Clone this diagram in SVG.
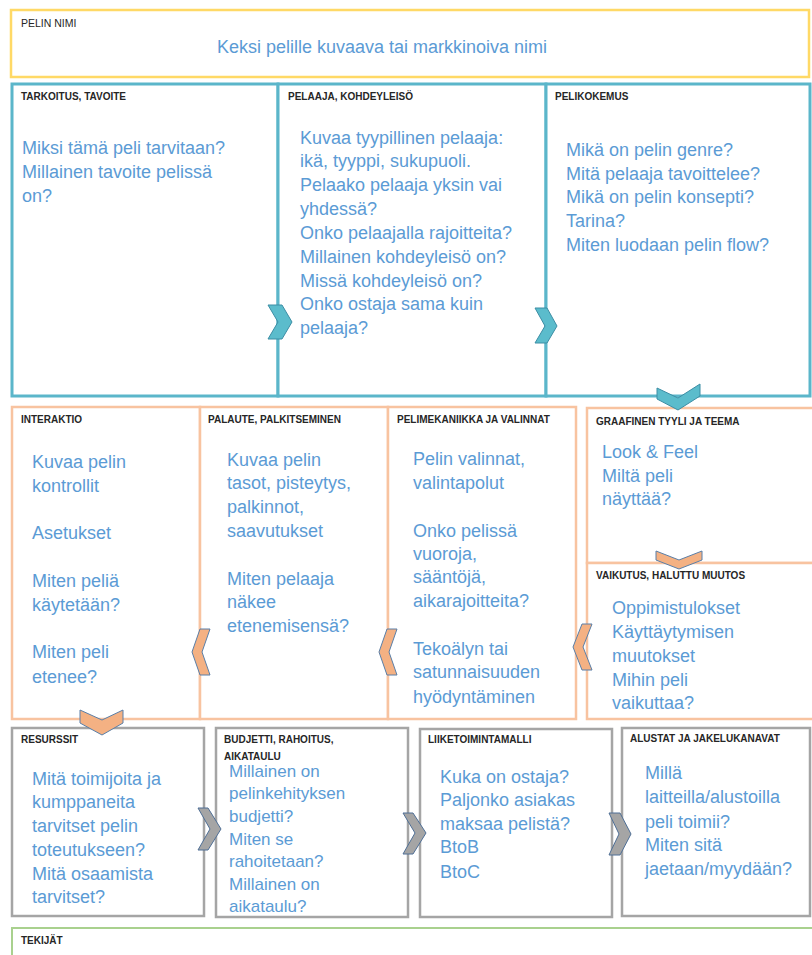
<svg xmlns="http://www.w3.org/2000/svg" width="812" height="955" viewBox="0 0 812 955">
<style>
  .lbl { font-family: "Liberation Sans", Arial, sans-serif; font-size: 10px; font-weight: bold; fill: #262626; }
  .lbln { font-family: "Liberation Sans", Arial, sans-serif; font-size: 10.5px; fill: #262626; }
  .body { font-family: "Liberation Sans", Arial, sans-serif; font-size: 18px; fill: #5b9bd5; }
  .body17 { font-family: "Liberation Sans", Arial, sans-serif; font-size: 17px; fill: #5b9bd5; }
  .yel { fill: #ffffff; stroke: #ffd966; stroke-width: 2.5; }
  .teal { fill: #ffffff; stroke: #5bb6ca; stroke-width: 3; }
  .org { fill: #ffffff; stroke: #f8c3a0; stroke-width: 2.5; }
  .gry { fill: #ffffff; stroke: #a5a5a5; stroke-width: 2.5; }
  .grn { fill: #ffffff; stroke: #a9d18e; stroke-width: 2; }
  .chT { fill: #5bbccc; stroke: #3d8ea5; stroke-width: 1; }
  .chO { fill: #f4b183; stroke: #5a7fa8; stroke-width: 1; }
  .chG { fill: #a5a5a5; stroke: #4f6f96; stroke-width: 1; }
</style>
<rect width="812" height="955" fill="#ffffff"/>

<g id="pelin-nimi">
  <rect class="yel" x="11" y="10" width="798" height="67"/>
  <text class="lbln" x="21" y="27">PELIN NIMI</text>
  <text class="body" x="382" y="53" text-anchor="middle">Keksi pelille kuvaava tai markkinoiva nimi</text>
</g>

<g id="tarkoitus">
  <rect class="teal" x="12" y="84" width="266" height="312"/>
  <text class="lbl" x="21" y="100">TARKOITUS, TAVOITE</text>
  <text class="body" x="22" y="154">Miksi tämä peli tarvitaan?</text>
  <text class="body" x="22" y="178">Millainen tavoite pelissä</text>
  <text class="body" x="22" y="202">on?</text>
</g>

<g id="pelaaja">
  <rect class="teal" x="278" y="84" width="268" height="312"/>
  <text class="lbl" x="288" y="100">PELAAJA, KOHDEYLEISÖ</text>
  <text class="body" x="300" y="144">Kuvaa tyypillinen pelaaja:</text>
  <text class="body" x="300" y="167">ikä, tyyppi, sukupuoli.</text>
  <text class="body" x="300" y="191">Pelaako pelaaja yksin vai</text>
  <text class="body" x="300" y="215">yhdessä?</text>
  <text class="body" x="300" y="239">Onko pelaajalla rajoitteita?</text>
  <text class="body" x="300" y="263">Millainen kohdeyleisö on?</text>
  <text class="body" x="300" y="287">Missä kohdeyleisö on?</text>
  <text class="body" x="300" y="310">Onko ostaja sama kuin</text>
  <text class="body" x="300" y="334">pelaaja?</text>
</g>

<g id="pelikokemus">
  <rect class="teal" x="546" y="84" width="264" height="312"/>
  <text class="lbl" x="555" y="100">PELIKOKEMUS</text>
  <text class="body" x="566" y="156">Mikä on pelin genre?</text>
  <text class="body" x="566" y="180">Mitä pelaaja tavoittelee?</text>
  <text class="body" x="566" y="203">Mikä on pelin konsepti?</text>
  <text class="body" x="566" y="227">Tarina?</text>
  <text class="body" x="566" y="251">Miten luodaan pelin flow?</text>
</g>

<g id="interaktio">
  <rect class="org" x="12" y="407" width="188" height="312"/>
  <text class="lbl" x="21" y="423">INTERAKTIO</text>
  <text class="body" x="32" y="468">Kuvaa pelin</text>
  <text class="body" x="32" y="492">kontrollit</text>
  <text class="body" x="32" y="539">Asetukset</text>
  <text class="body" x="32" y="587">Miten peliä</text>
  <text class="body" x="32" y="611">käytetään?</text>
  <text class="body" x="32" y="658">Miten peli</text>
  <text class="body" x="32" y="683">etenee?</text>
</g>

<g id="palaute">
  <rect class="org" x="200" y="407" width="188" height="312"/>
  <text class="lbl" x="208" y="423">PALAUTE, PALKITSEMINEN</text>
  <text class="body" x="227" y="466">Kuvaa pelin</text>
  <text class="body" x="227" y="489">tasot, pisteytys,</text>
  <text class="body" x="227" y="513">palkinnot,</text>
  <text class="body" x="227" y="537">saavutukset</text>
  <text class="body" x="227" y="585">Miten pelaaja</text>
  <text class="body" x="227" y="608">näkee</text>
  <text class="body" x="227" y="632">etenemisensä?</text>
</g>

<g id="pelimekaniikka">
  <rect class="org" x="388" y="407" width="188" height="312"/>
  <text class="lbl" x="397" y="423">PELIMEKANIIKKA JA VALINNAT</text>
  <text class="body" x="413" y="465">Pelin valinnat,</text>
  <text class="body" x="413" y="489">valintapolut</text>
  <text class="body" x="413" y="537">Onko pelissä</text>
  <text class="body" x="413" y="560">vuoroja,</text>
  <text class="body" x="413" y="583">sääntöjä,</text>
  <text class="body" x="413" y="607">aikarajoitteita?</text>
  <text class="body" x="413" y="655">Tekoälyn tai</text>
  <text class="body" x="413" y="678">satunnaisuuden</text>
  <text class="body" x="413" y="703">hyödyntäminen</text>
</g>

<g id="graafinen">
  <rect class="org" x="587" y="408" width="240" height="155"/>
  <text class="lbl" x="596" y="425">GRAAFINEN TYYLI JA TEEMA</text>
  <text class="body" x="602" y="458">Look &amp; Feel</text>
  <text class="body" x="602" y="482">Miltä peli</text>
  <text class="body" x="602" y="505">näyttää?</text>
</g>

<g id="vaikutus">
  <rect class="org" x="587" y="563" width="240" height="156"/>
  <text class="lbl" x="596" y="579">VAIKUTUS, HALUTTU MUUTOS</text>
  <text class="body" x="612" y="614">Oppimistulokset</text>
  <text class="body" x="612" y="638">Käyttäytymisen</text>
  <text class="body" x="612" y="662">muutokset</text>
  <text class="body" x="612" y="686">Mihin peli</text>
  <text class="body" x="612" y="709">vaikuttaa?</text>
</g>

<g id="resurssit">
  <rect class="gry" x="12" y="728" width="192" height="188"/>
  <text class="lbl" x="21" y="743">RESURSSIT</text>
  <text class="body" x="32" y="785">Mitä toimijoita ja</text>
  <text class="body" x="32" y="808">kumppaneita</text>
  <text class="body" x="32" y="832">tarvitset pelin</text>
  <text class="body" x="32" y="856">toteutukseen?</text>
  <text class="body" x="32" y="880">Mitä osaamista</text>
  <text class="body" x="32" y="903">tarvitset?</text>
</g>

<g id="budjetti">
  <rect class="gry" x="216" y="728" width="192" height="189"/>
  <text class="lbl" x="224" y="743">BUDJETTI, RAHOITUS,</text>
  <text class="lbl" x="224" y="760">AIKATAULU</text>
  <text class="body17" x="229" y="777">Millainen on</text>
  <text class="body17" x="229" y="799">pelinkehityksen</text>
  <text class="body17" x="229" y="822">budjetti?</text>
  <text class="body17" x="229" y="845">Miten se</text>
  <text class="body17" x="229" y="867">rahoitetaan?</text>
  <text class="body17" x="229" y="890">Millainen on</text>
  <text class="body17" x="229" y="912">aikataulu?</text>
</g>

<g id="liiketoimintamalli">
  <rect class="gry" x="420" y="729" width="192" height="188"/>
  <text class="lbl" x="428" y="743">LIIKETOIMINTAMALLI</text>
  <text class="body" x="440" y="783">Kuka on ostaja?</text>
  <text class="body" x="440" y="806">Paljonko asiakas</text>
  <text class="body" x="440" y="830">maksaa pelistä?</text>
  <text class="body" x="440" y="853">BtoB</text>
  <text class="body" x="440" y="878">BtoC</text>
</g>

<g id="alustat">
  <rect class="gry" x="622" y="728" width="188" height="188"/>
  <text class="lbl" x="630" y="742">ALUSTAT JA JAKELUKANAVAT</text>
  <text class="body" x="645" y="779">Millä</text>
  <text class="body" x="645" y="803">laitteilla/alustoilla</text>
  <text class="body" x="645" y="828">peli toimii?</text>
  <text class="body" x="645" y="851">Miten sitä</text>
  <text class="body" x="645" y="875">jaetaan/myydään?</text>
</g>

<g id="tekijat">
  <rect class="grn" x="12" y="928" width="810" height="40"/>
  <text class="lbl" x="21" y="944">TEKIJÄT</text>
</g>

<g id="connectors">
  <polygon class="chT" points="268,305 282,305 292,322 282,339 268,339 278,322"/>
  <polygon class="chT" points="535,308 547,308 557,326 547,343 535,343 545,326"/>
  <polygon class="chT" points="657,388 678,398 700,384 700,396 678,410 657,399"/>
  <polygon class="chO" points="656,551 679,560 702,551 702,560 679,569 656,560"/>
  <polygon class="chO" points="592,624 582,624 573,647 582,670 592,670 583,647"/>
  <polygon class="chO" points="397,629 387,629 379,652 387,675 397,675 389,652"/>
  <polygon class="chO" points="210,629 200,629 192,652 200,675 210,675 202,652"/>
  <polygon class="chO" points="80,710 102,720 123,710 123,723 102,735 80,723"/>
  <polygon class="chG" points="198,808 208,808 221,829 208,850 198,850 210,829"/>
  <polygon class="chG" points="403,813 413,813 426,833 413,854 403,854 415,833"/>
  <polygon class="chG" points="609,813 620,813 631,834 620,855 609,855 619,834"/>
</g>
</svg>
